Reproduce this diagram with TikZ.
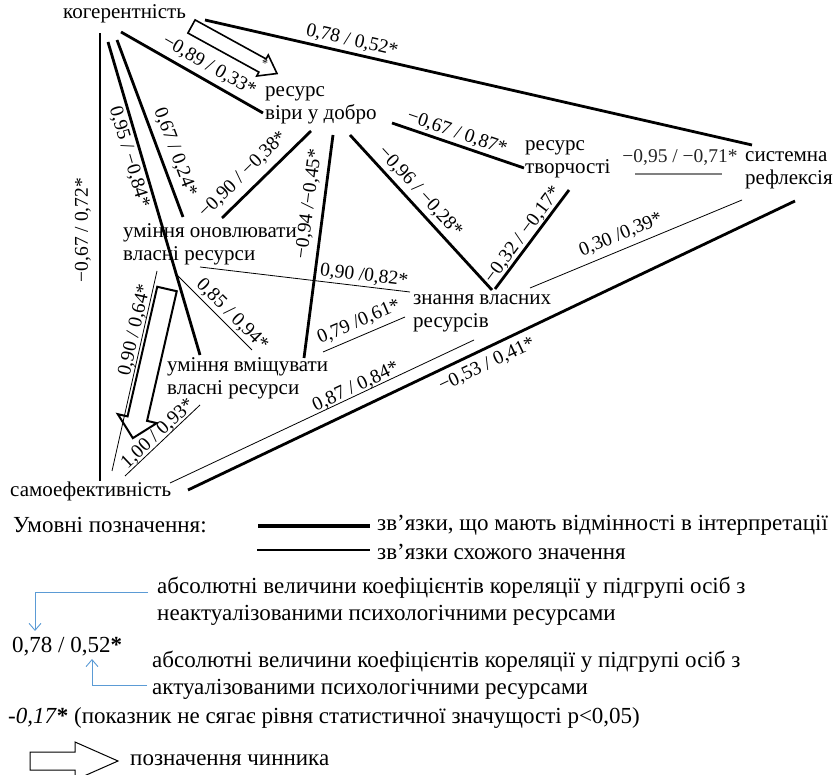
\documentclass[tikz,border=0pt]{standalone}
\usepackage{fontspec}
\setmainfont{Liberation Serif}
\usetikzlibrary{arrows.meta}
\definecolor{legblue}{RGB}{91,155,213}
\begin{document}
\begin{tikzpicture}[x=1pt,y=-1pt,
  thickline/.style={line width=2.8pt},
  thinline/.style={line width=0.8pt},
  greyline/.style={line width=1.6pt, draw=black!50},
  nd/.style={font=\fontsize{21}{23}\selectfont, inner sep=0pt, align=left, anchor=west},
  lab/.style={font=\fontsize{19.5}{21}\selectfont, inner sep=0pt, anchor=center},
  leg/.style={font=\fontsize{23}{27}\selectfont, inner sep=0pt, anchor=west, align=left},
  factor/.style={draw, line width=1.6pt, fill=white, line join=miter},
  bluearrow/.style={draw=legblue, line width=0.9pt, -{Straight Barb[length=7pt,width=12pt]}}
]
\useasboundingbox (0,0) rectangle (839,775);
\fill[white] (0,0) rectangle (839,775);

% ---------- nodes ----------
\node[nd] (coh) at (63,14) {когерентність};
\node[nd] (faith) at (265,105) {ресурс\\віри у добро};
\node[nd] (creat) at (525,159) {ресурс\\творчості};
\node[nd] (refl) at (745,170) {системна\\рефлексія};
\node[nd] (renew) at (123,244) {уміння оновлювати\\власні ресурси};
\node[nd] (know) at (413,313) {знання власних\\ресурсів};
\node[nd] (contain) at (167,378) {уміння вміщувати\\власні ресурси};
\node[nd] (self) at (10,491) {самоефективність};

% ---------- factor arrows ----------
\begin{scope}[shift={(191.5,26.5)}, rotate=-28.8]
  \draw[factor] (0,-7.5) -- (81,-7.5) -- (81,-12) -- (97.6,0) -- (81,12) -- (81,7.5) -- (0,7.5) -- cycle;
\end{scope}
\node[font=\fontsize{12}{12}\selectfont, inner sep=0pt] (star) at (265,64) {*};
\begin{scope}[shift={(167,289)}, rotate=-102.9]
  \draw[factor, line width=2pt] (0,-10) -- (133,-10) -- (133,-20) -- (153,0) -- (133,20) -- (133,10) -- (0,10) -- cycle;
\end{scope}

% ---------- connector end points ----------
\coordinate (e1a) at (205,20);  \coordinate (e1b) at (752,145);
\coordinate (e2a) at (121,32);  \coordinate (e2b) at (263,113);
\coordinate (e3a) at (117,40);  \coordinate (e3b) at (183,217);
\coordinate (e4a) at (108,42);  \coordinate (e4b) at (200,355);
\coordinate (e5a) at (100,481); \coordinate (e5b) at (100,33);
\coordinate (e6a) at (222,218); \coordinate (e6b) at (311,131);
\coordinate (e7a) at (304,358); \coordinate (e7b) at (333,135);
\coordinate (e8a) at (350,135); \coordinate (e8b) at (492,290);
\coordinate (e9a) at (392,123); \coordinate (e9b) at (524,168);
\coordinate (e10a) at (495,289); \coordinate (e10b) at (569,190);
\coordinate (e11a) at (530,288); \coordinate (e11b) at (742,200);
\coordinate (e12a) at (188,490); \coordinate (e12b) at (795,201);
\coordinate (e13a) at (170,483); \coordinate (e13b) at (474,340);
\coordinate (e14a) at (323,352); \coordinate (e14b) at (405,317);
\coordinate (e15a) at (200,267); \coordinate (e15b) at (410,292);
\coordinate (e16a) at (175,273); \coordinate (e16b) at (252,350);
\coordinate (e17a) at (112,471); \coordinate (e17b) at (157,271);
\coordinate (e18a) at (125,476); \coordinate (e18b) at (200,405);
\coordinate (e19a) at (635,174); \coordinate (e19b) at (722,174);

% ---------- connectors ----------
\draw[thickline] (e1a) -- (e1b);
\draw[thickline] (e2a) -- (e2b);
\draw[thickline] (e3a) -- (e3b);
\draw[thickline] (e4a) -- (e4b);
\draw[thickline] (e5a) -- (e5b);
\draw[thickline] (e6a) -- (e6b);
\draw[thickline] (e7a) -- (e7b);
\draw[thickline] (e8a) -- (e8b);
\draw[thickline] (e9a) -- (e9b);
\draw[thickline] (e10a) -- (e10b);
\draw[thinline] (e11a) -- (e11b);
\draw[thickline] (e12a) -- (e12b);
\draw[thinline] (e13a) -- (e13b);
\draw[thinline] (e14a) -- (e14b);
\draw[thinline] (e15a) -- (e15b);
\draw[thinline] (e16a) -- (e16b);
\draw[thinline] (e17a) -- (e17b);
\draw[thinline] (e18a) -- (e18b);
\draw[greyline] (e19a) -- (e19b);

% ---------- connector labels ----------
\node[lab, rotate=-12.9] (l1) at (352,41) {0,78 / 0,52*};
\node[lab, rotate=-29.7] (l2) at (209,66) {−0,89 / 0,33*};
\node[lab, rotate=-69.55] (l3) at (175,152) {0,67 / 0,24*};
\node[lab, rotate=-73.6] (l4) at (129,157) {0,95 / −0,84*};
\node[lab, rotate=90] (l5) at (83,230) {−0,67 / 0,72*};
\node[lab, rotate=44.35] (l6) at (243,175) {−0,90 / −0,38*};
\node[lab, rotate=82.6] (l7) at (309,204) {−0,94 /−0,45*};
\node[lab, rotate=-47.5] (l8) at (420,192) {−0,96 / −0,28*};
\node[lab, rotate=-18.8] (l9) at (457,133) {−0,67 / 0,87*};
\node[lab, rotate=53.2] (l10) at (523,235) {−0,32 / −0,17*};
\node[lab, rotate=22.5] (l11) at (621,235) {0,30 /0,39*};
\node[lab, rotate=25.5] (l12) at (487,365) {−0,53 / 0,41*};
\node[lab, rotate=25.2] (l13) at (356,387) {0,87 / 0,84*};
\node[lab, rotate=23.1] (l14) at (359,322) {0,79 /0,61*};
\node[lab, rotate=-6.8] (l15) at (364,276) {0,90 /0,82*};
\node[lab, rotate=-45] (l16) at (232,315) {0,85 / 0,94*};
\node[lab, rotate=77.3] (l17) at (135,330) {0,90 / 0,64*};
\node[lab, rotate=43.4] (l18) at (158,434) {1,00 / 0,93*};
\node[lab, text=black!85] (l19) at (680,158) {−0,95 / −0,71*};

% ---------- legend ----------
\node[leg] (legtitle) at (13,525) {Умовні позначення:};
\coordinate (lg1a) at (258,526); \coordinate (lg1b) at (370,526);
\draw[line width=3.8pt] (lg1a) -- (lg1b);
\node[leg] (legthick) at (377,525) {зв’язки, що мають відмінності в інтерпретації};
\coordinate (lg2a) at (257,550); \coordinate (lg2b) at (370,550);
\draw[line width=1.1pt] (lg2a) -- (lg2b);
\node[leg] (legthin) at (377,552) {зв’язки схожого значення};

\node[leg] (legabs1) at (157,601) {абсолютні величини коефіцієнтів кореляції у підгрупі осіб з\\неактуалізованими психологічними ресурсами};
\node[leg] (legval) at (12,647) {0,78 / 0,52\textbf{*}};
\node[leg] (legabs2) at (152,675) {абсолютні величини коефіцієнтів кореляції у підгрупі осіб з\\актуалізованими психологічними ресурсами};
\coordinate (b1s) at (148,592); \coordinate (b1c) at (35,592); \coordinate (b1e) at (35,631);
\draw[bluearrow] (b1s) -- (b1c) -- (b1e);
\coordinate (b2s) at (147,685); \coordinate (b2c) at (92,685); \coordinate (b2e) at (92,659);
\draw[bluearrow] (b2s) -- (b2c) -- (b2e);

\node[leg] (legsig) at (8,718) {\textit{-0,17}\textbf{*} (показник не сягає рівня статистичної значущості p<0,05)};
\begin{scope}[shift={(30,761)}]
  \draw[factor, line width=1pt] (0,-9) -- (45,-9) -- (45,-19) -- (88,0) -- (45,19) -- (45,9) -- (0,9) -- cycle;
\end{scope}
\node[leg] (legfactor) at (130,760) {позначення чинника};
\end{tikzpicture}
\end{document}
